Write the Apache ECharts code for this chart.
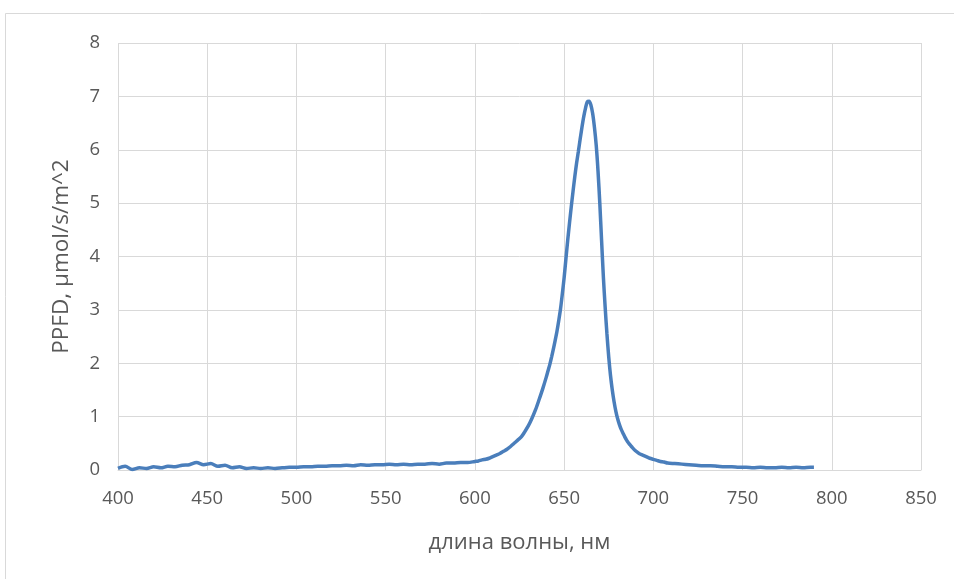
<!DOCTYPE html>
<html>
<head>
<meta charset="utf-8">
<script src="https://cdn.jsdelivr.net/npm/echarts@6/dist/echarts.min.js"></script>
<style>html,body{margin:0;padding:0;background:#fff}#c{width:954px;height:579px}</style>
</head>
<body>
<div id="c"></div>
<script>
const wavelengths = [400,404,408,412,416,420,424,428,432,436,440,444,448,452,456,460,464,468,472,476,480,484,488,492,496,500,504,508,512,516,520,524,528,532,536,540,544,548,552,556,560,564,568,572,576,580,584,588,592,596,600,602,604,606,608,610,612,614,616,618,620,622,624,626,628,630,632,634,636,638,640,641,642,643,644,645,646,647,648,649,650,651,652,653,654,655,656,657,658,659,660,661,662,663,664,665,666,667,668,669,670,671,672,673,674,675,676,677,678,679,680,681,682,683,684,685,686,687,688,690,692,694,696,698,700,702,704,706,708,712,716,720,724,728,732,736,740,744,748,752,756,760,764,768,772,776,780,784,788,790];
const ppfd = [0.03,0.07,0.01,0.04,0.03,0.06,0.04,0.07,0.06,0.09,0.10,0.14,0.10,0.12,0.07,0.09,0.04,0.06,0.03,0.04,0.03,0.04,0.03,0.04,0.05,0.05,0.06,0.06,0.07,0.07,0.08,0.08,0.09,0.08,0.10,0.09,0.10,0.10,0.11,0.10,0.11,0.10,0.11,0.11,0.12,0.11,0.13,0.13,0.14,0.14,0.16,0.17,0.19,0.20,0.22,0.25,0.28,0.31,0.35,0.39,0.44,0.50,0.56,0.62,0.72,0.83,0.97,1.13,1.32,1.52,1.74,1.86,1.98,2.12,2.27,2.43,2.60,2.80,3.02,3.30,3.60,3.95,4.30,4.62,4.93,5.22,5.50,5.75,5.97,6.20,6.42,6.62,6.78,6.90,6.91,6.84,6.68,6.42,6.08,5.60,5.00,4.30,3.62,3.05,2.55,2.12,1.77,1.50,1.28,1.10,0.96,0.85,0.76,0.69,0.62,0.56,0.51,0.47,0.43,0.36,0.31,0.28,0.25,0.22,0.20,0.18,0.16,0.15,0.13,0.12,0.11,0.10,0.09,0.08,0.08,0.07,0.06,0.06,0.05,0.05,0.04,0.05,0.04,0.04,0.05,0.04,0.05,0.04,0.05,0.05];
const xTicks = [400,450,500,550,600,650,700,750,800,850];
const yTicks = [0,1,2,3,4,5,6,7,8];
const xName = 'длина волны, нм';
const yName = 'PPFD, μmol/s/m^2';

const chart = echarts.init(document.getElementById('c'), null, {renderer:'canvas'});
const font = 'Open Sans';
chart.setOption({
  animation:false,
  backgroundColor:'#fff',
  graphic:[{type:'rect',shape:{x:5.5,y:13.5,width:1000,height:1000},style:{fill:'none',stroke:'#d9d9d9',lineWidth:1},silent:true}],
  grid:{left:118,right:33,top:43,bottom:109,show:false},
  xAxis:{
    type:'value', min:xTicks[0], max:xTicks[xTicks.length-1], interval:50,
    name:xName, nameLocation:'middle', nameGap:62,
    nameTextStyle:{fontFamily:font,fontSize:22,color:'#595959'},
    axisLine:{show:true,lineStyle:{color:'#d9d9d9',width:1}},
    axisTick:{show:false},
    axisLabel:{fontFamily:font,fontSize:18.5,color:'#595959',margin:19},
    splitLine:{show:true,lineStyle:{color:'#d9d9d9',width:1}}
  },
  yAxis:{
    type:'value', min:yTicks[0], max:yTicks[yTicks.length-1], interval:1,
    name:yName, nameLocation:'middle', nameGap:45,
    nameTextStyle:{fontFamily:font,fontSize:22.5,color:'#595959'},
    axisLine:{show:false},
    axisTick:{show:false},
    axisLabel:{fontFamily:font,fontSize:18.5,color:'#595959',margin:18},
    splitLine:{show:true,lineStyle:{color:'#d9d9d9',width:1}}
  },
  series:[{
    type:'line',
    data:wavelengths.map((w,i)=>[w,ppfd[i]]),
    showSymbol:false,
    smooth:0.3,
    lineStyle:{color:'#4a7ebb',width:3.5},
    itemStyle:{color:'#4a7ebb'}
  }]
});
</script>
</body>
</html>
